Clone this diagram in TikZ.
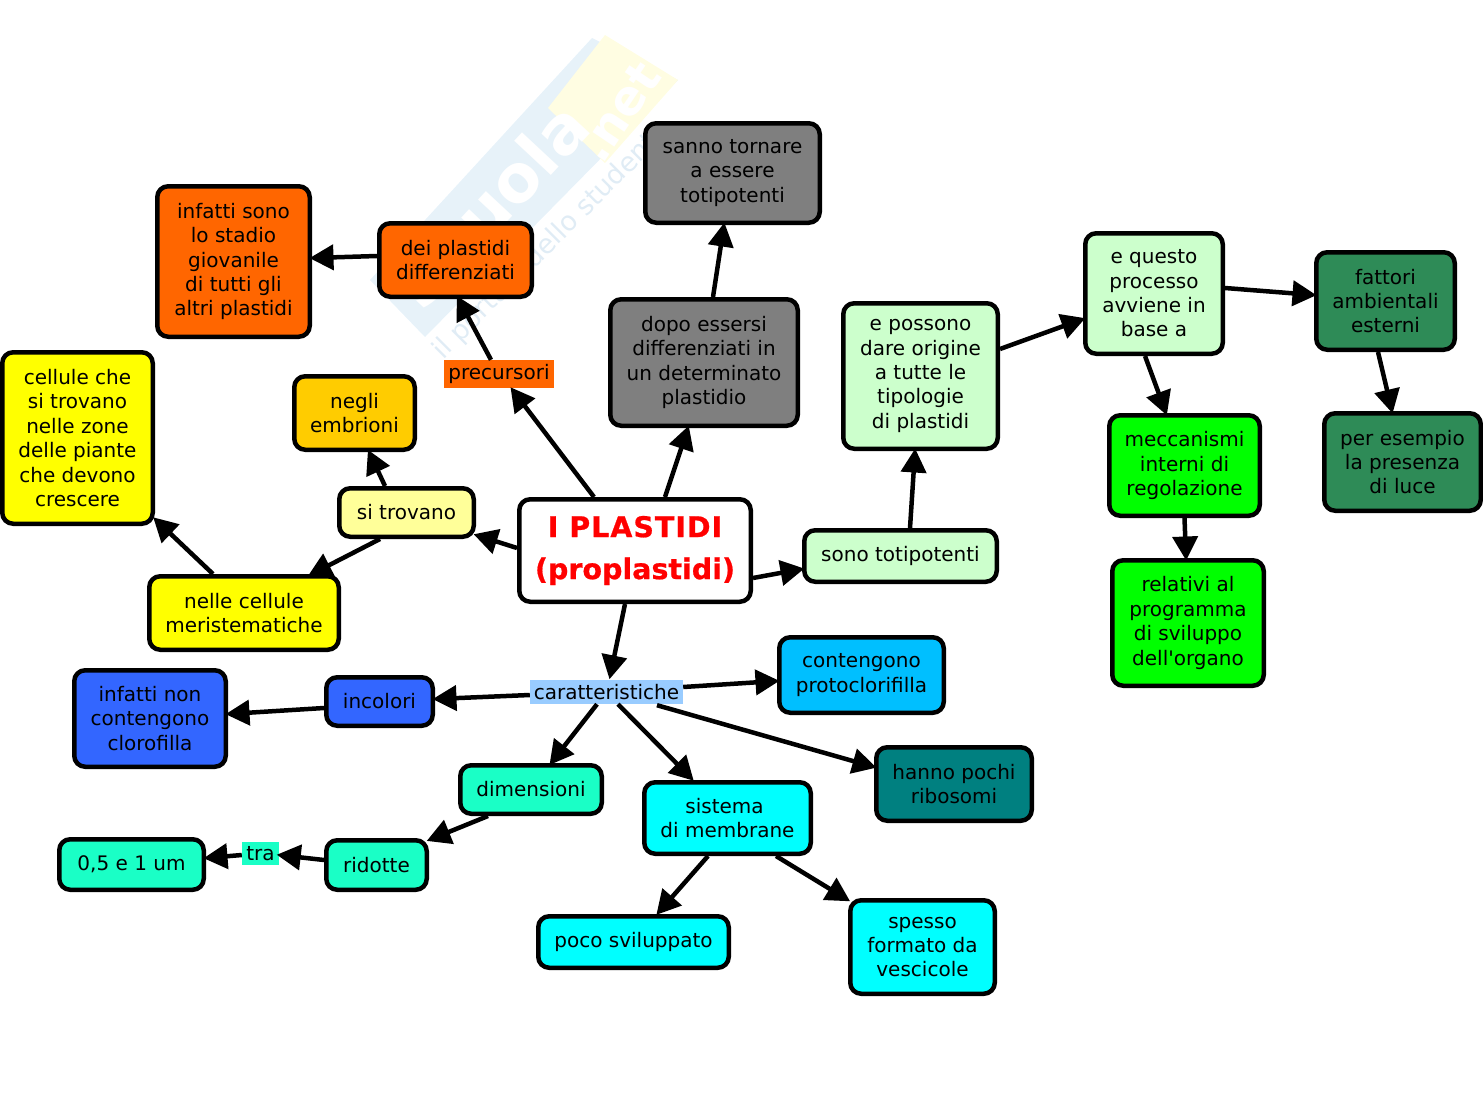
\documentclass[tikz,border=0pt]{standalone}
\usepackage{fontspec}
\setmainfont{DejaVu Sans}
\newfontfamily\aposfont{DejaVu Sans}
\newfontfamily\ttlfont[FakeBold=0.7]{DejaVu Sans Bold}
\newfontfamily\ttlfontb[FakeBold=0.7,LetterSpace=3.5]{DejaVu Sans Bold}
\usetikzlibrary{arrows.meta}
\tikzset{
  x=1pt,y=-1pt,
  bx/.style={draw=black,line width=4.5pt,rounded corners=11pt,inner sep=0pt,align=center,
    font=\fontsize{20}{24.4}\selectfont,text=black},
  lb/.style={inner sep=0pt,align=center,font=\fontsize{20}{24.4}\selectfont,text=black},
  conn/.style={line width=4.5pt,draw=black,shorten >=-2.5pt,-{Triangle[length=24pt,width=25pt]}},
  wmtext/.style={white,font=\fontsize{66}{66}\bfseries\selectfont,rotate=47}
}
\definecolor{cOr}{HTML}{FF6600}\definecolor{cGr}{HTML}{7F7F7F}
\definecolor{cAm}{HTML}{FFCC00}\definecolor{cYe}{HTML}{FFFF00}
\definecolor{cPy}{HTML}{FFFF99}\definecolor{cPg}{HTML}{CCFFCC}
\definecolor{cSg}{HTML}{2E8B57}\definecolor{cLi}{HTML}{00FF00}
\definecolor{cSk}{HTML}{99CCFF}\definecolor{cDs}{HTML}{00BFFF}
\definecolor{cBl}{HTML}{3366FF}\definecolor{cTq}{HTML}{1AFFC6}
\definecolor{cCy}{HTML}{00FFFF}\definecolor{cTe}{HTML}{008080}
\definecolor{cWb}{HTML}{E7F2F9}\definecolor{cWy}{HTML}{FFFDE2}\definecolor{cWt}{HTML}{E0ECF5}
\newcommand{\bxn}[7]{\node[bx,fill=#6,minimum width={#4-#2-0.5},minimum height={#5-#3-0.5}] (#1) at ({(#2+#4)/2},{(#3+#5)/2}) {#7};}
\newcommand{\lbn}[7]{\node[lb,fill=#6,minimum width={#4-#2},minimum height={#5-#3}] (#1) at ({(#2+#4)/2},{(#3+#5)/2}) {#7};}
\newcommand{\conn}[4]{\draw[conn] ([shift={(#2)}]#1) -- ([shift={(#4)}]#3);}
\begin{document}
\begin{tikzpicture}
\useasboundingbox (0,0) rectangle (1483,1116);
% watermark
\fill[cWb] (370,280) -- (592,38) -- (678,80) -- (425,337) -- cycle;
\fill[cWy] (548,108) -- (605,35) -- (678,80) -- (605,163) -- cycle;
\node[wmtext] (wmA) at (490,205) {Skuola};
\node[wmtext,rotate=9,font=\fontsize{48}{48}\bfseries\selectfont] (wmB) at (619,112) {.net};
\node[text=cWt,rotate=45,font=\fontsize{27}{27}\selectfont] (wmC) at (552,241) {il portale dello studente};
% nodes
\node[bx,fill=white,minimum width=231.5pt,minimum height=102.5pt,font=\fontsize{28.5}{42}\selectfont,text=red] (main) at (635,550.5) {{\ttlfontb I PLASTIDI}\\{\ttlfont (proplastidi)}};
\bxn{sanno}{645}{123}{820}{223}{cGr}{sanno tornare\\a essere\\totipotenti}
\bxn{dopo}{610}{299}{798}{426}{cGr}{dopo essersi\\differenziati in\\un determinato\\plastidio}
\bxn{infs}{157}{186}{310}{337}{cOr}{infatti sono\\lo stadio\\giovanile\\di tutti gli\\altri plastidi}
\bxn{dei}{379}{223}{532}{297}{cOr}{dei plastidi\\differenziati}
\lbn{prec}{444}{360}{554}{388}{cOr}{precursori}
\bxn{negli}{294}{376}{415}{450}{cAm}{negli\\embrioni}
\bxn{cellule}{2}{352}{153}{524}{cYe}{cellule che\\si trovano\\nelle zone\\delle piante\\che devono\\crescere}
\bxn{trovano}{339}{488}{474}{537}{cPy}{si trovano}
\bxn{nelle}{149}{576}{339}{650}{cYe}{nelle cellule\\meristematiche}
\bxn{tot}{804}{530}{997}{582}{cPg}{sono totipotenti}
\bxn{poss}{843}{303}{998}{449}{cPg}{e possono\\dare origine\\a tutte le\\tipologie\\di plastidi}
\bxn{questo}{1085}{233}{1223}{354}{cPg}{e questo\\processo\\avviene in\\base a}
\bxn{fatt}{1316}{252}{1455}{350}{cSg}{fattori\\ambientali\\esterni}
\bxn{esempio}{1324}{413}{1481}{511}{cSg}{per esempio\\la presenza\\di luce}
\bxn{mecc}{1109}{415}{1260}{516}{cLi}{meccanismi\\interni di\\regolazione}
\bxn{rel}{1112}{560}{1264}{686}{cLi}{relativi al\\programma\\di sviluppo\\dell{\aposfont '}organo}
\lbn{car}{530}{680}{683}{704}{cSk}{caratteristiche}
\bxn{cont}{779}{637}{944}{713}{cDs}{contengono\\protoclorifilla}
\bxn{inc}{326}{677}{433}{726}{cBl}{incolori}
\bxn{infn}{74}{670}{226}{767}{cBl}{infatti non\\contengono\\clorofilla}
\bxn{dim}{460}{765}{602}{814}{cTq}{dimensioni}
\bxn{sis}{644}{782}{811}{854}{cCy}{sistema\hspace*{6pt}\\di membrane}
\bxn{han}{876}{747}{1032}{821}{cTe}{hanno pochi\\ribosomi}
\bxn{rid}{326}{840}{427}{890}{cTq}{ridotte}
\lbn{tra}{242}{842}{279}{865}{cTq}{tra}
\bxn{zero}{59}{839}{204}{890}{cTq}{0,5 e 1 um}
\bxn{poco}{538}{916}{729}{968}{cCy}{poco sviluppato}
\bxn{spe}{850}{900}{995}{994}{cCy}{spesso\\formato da\\vescicole}
% connectors
\conn{main.north}{-41,0}{prec.south}{13,1}
\conn{prec.north}{-8,0}{dei.south}{2.5,-1}
\conn{dei.west}{0,-4}{infs.east}{0,-3.5}
\conn{main.north}{30,0}{dopo.south}{-16,0}
\conn{dopo.north}{9,0}{sanno.south}{-8.5,0}
\conn{main.west}{0,-2.5}{trovano.south east}{0,-4}
\conn{trovano.north}{-21.5,0}{negli.south}{14.5,0}
\conn{trovano.south}{-26.5,0}{nelle.north}{66,1}
\conn{nelle.north}{-31,0}{cellule.south east}{0,-7}
\conn{main.east}{0,27.5}{tot.west}{0,13}
\conn{tot.north}{9.5,0}{poss.south}{-5.5,0}
\conn{poss.east}{0,-27}{questo.west}{0,25.5}
\conn{questo.east}{0,-5.5}{fatt.west}{0,-6}
\conn{questo.south}{-9,0}{mecc.north}{-18.5,0}
\conn{fatt.south}{-7.5,0}{esempio.north}{-10.5,0}
\conn{mecc.south}{0,0}{rel.north}{-2,0}
\conn{main.south}{-10,0}{car.north}{3.5,-3}
\conn{car.west}{0,3}{inc.east}{0,-2.5}
\conn{inc.west}{0,6.5}{infn.east}{0,-4.5}
\conn{car.east}{0,-5}{cont.west}{0,6}
\conn{car.south}{-9.5,0}{dim.north}{20,0}
\conn{car.south}{11.5,0}{sis.north}{-35.5,-1}
\conn{car.south}{50.5,1}{han.west}{0,-17}
\conn{dim.south}{-43,0}{rid.north east}{0,2}
\conn{rid.west}{0,-5}{tra.east}{0,1.5}
\conn{tra.west}{0,1.5}{zero.east}{0,-6.5}
\conn{sis.south}{-19.5,0}{poco.north}{24.5,-1}
\conn{sis.south}{48.5,0}{spe.north west}{0,2}
\end{tikzpicture}
\end{document}
